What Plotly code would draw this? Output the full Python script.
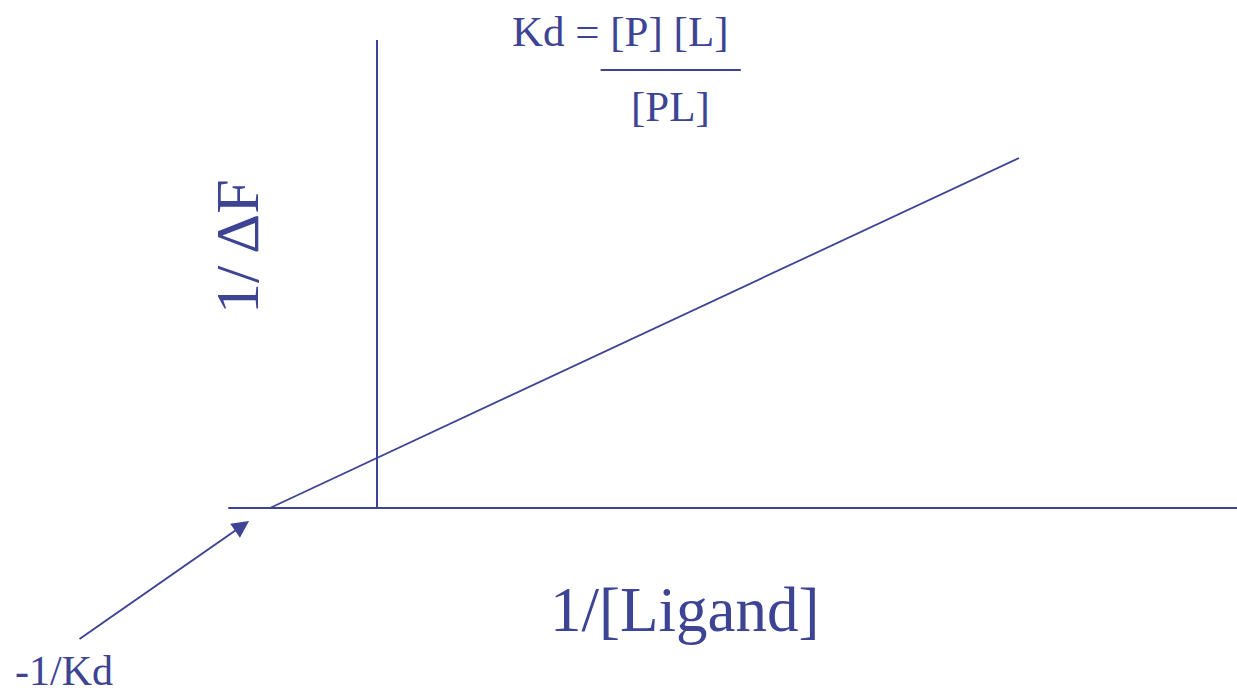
import plotly.graph_objects as go

# ---- data (Kd = 1 : 1/dF = 1 + 1/[L]) ----
line_x = [-1, 6]          # 1/[Ligand]
line_y = [0, 7]           # 1/dF
xaxis_line_x = [-1.39, 8.04]
xaxis_line_y = [0, 0]
yaxis_line_x = [0, 0]
yaxis_line_y = [0, 9.36]
arrow_tail = (-2.794, -2.64)
arrow_head = (-1.196, -0.26)
frac_x = [2.09, 3.40]
frac_y = [8.76, 8.76]

COL = "#3c4493"
FONT = "Liberation Serif, Times New Roman, serif"

fig = go.Figure()
fig.add_trace(go.Scatter(x=xaxis_line_x, y=xaxis_line_y, mode="lines",
                         line=dict(color=COL, width=2), hoverinfo="skip"))
fig.add_trace(go.Scatter(x=yaxis_line_x, y=yaxis_line_y, mode="lines",
                         line=dict(color=COL, width=2), hoverinfo="skip"))
fig.add_trace(go.Scatter(x=line_x, y=line_y, mode="lines",
                         line=dict(color=COL, width=1.8), hoverinfo="skip"))
fig.add_trace(go.Scatter(x=frac_x, y=frac_y, mode="lines",
                         line=dict(color=COL, width=2), hoverinfo="skip"))

fig.add_annotation(x=arrow_head[0], y=arrow_head[1], ax=arrow_tail[0], ay=arrow_tail[1],
                   xref="x", yref="y", axref="x", ayref="y", text="", showarrow=True,
                   arrowhead=2, arrowsize=1.7, arrowwidth=2, arrowcolor=COL, standoff=0)

def txt(s, px, py, size, angle=0, yanchor="middle"):
    fig.add_annotation(text=s, x=px / 1237, y=1 - py / 695, xref="paper", yref="paper",
                       xanchor="center", yanchor=yanchor, showarrow=False, textangle=angle,
                       borderpad=0, font=dict(family=FONT, size=size, color=COL))

txt("Kd = [P] [L]", 621, 32, 43)
txt("[PL]", 670, 107, 43)
txt("1/ \u0394F", 237, 247, 62, angle=-90)
txt("1/[Ligand]", 684, 610, 63)
txt("-1/Kd", 64, 695, 42, yanchor="bottom")

fig.update_layout(
    width=1237, height=695, margin=dict(l=0, r=0, t=0, b=0),
    paper_bgcolor="white", plot_bgcolor="white", showlegend=False,
    xaxis=dict(range=[-377 / 107, (1237 - 377) / 107], visible=False, fixedrange=True),
    yaxis=dict(range=[(508 - 695) / 50, 508 / 50], visible=False, fixedrange=True),
)

fig.write_html("out.html", post_script="document.body.style.margin='0';",
               config={"displayModeBar": False})
